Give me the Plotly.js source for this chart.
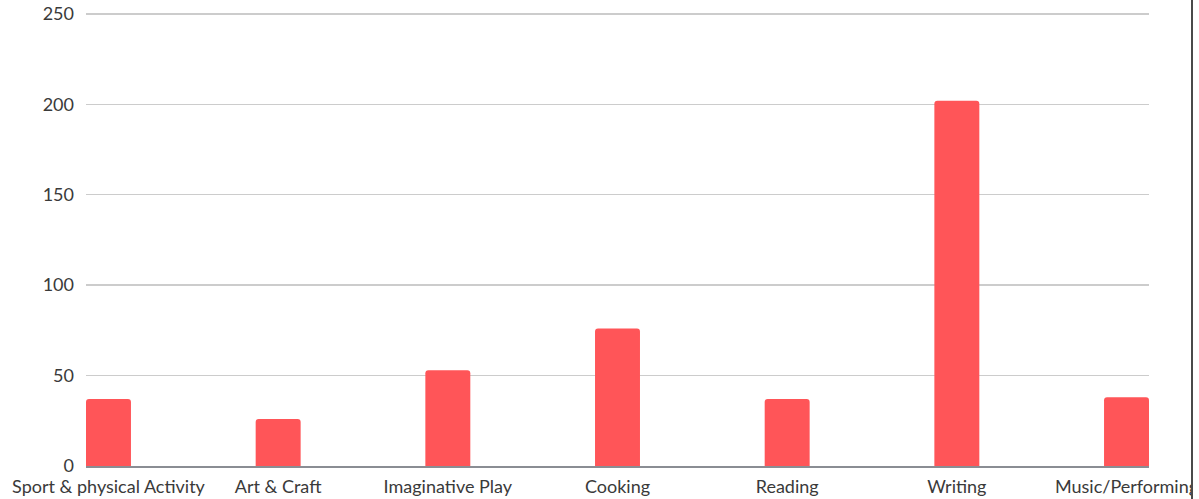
<!DOCTYPE html>
<html>
<head>
<meta charset="utf-8">
<script src="https://cdn.plot.ly/plotly-3.0.1.min.js"></script>
<style>
  html, body { margin: 0; padding: 0; background: #fff; }
  #wrap { position: relative; width: 1191px; height: 499px; overflow: hidden; }
  #edge { position: absolute; left: 1191px; top: 0; width: 2px; height: 499px; background: #4a4a4a; }
</style>
</head>
<body>
<div id="wrap"><div id="chart" style="width:1191px;height:499px;"></div></div>
<div id="edge"></div>
<script>
const categories = ["Sport & physical Activity", "Art & Craft", "Imaginative Play", "Cooking", "Reading", "Writing", "Music/Performing"];
const values = [37, 26, 53, 76, 37, 202, 38];
const yTicks = [0, 50, 100, 150, 200, 250];

const trace = {
  type: 'bar',
  x: categories,
  y: values,
  marker: { color: '#FF5558', line: { width: 0 } },
  hoverinfo: 'none'
};

const layout = {
  width: 1191,
  height: 499,
  margin: { l: 86, r: 42, t: 12, b: 33, pad: 0 },
  paper_bgcolor: '#ffffff',
  plot_bgcolor: '#ffffff',
  font: { family: 'Lato, sans-serif', size: 18, color: '#3a3a3a' },
  bargap: 0.735,
  barcornerradius: 3,
  showlegend: false,
  xaxis: {
    type: 'category',
    range: [-0.1325, 6.1325],
    showgrid: false,
    zeroline: false,
    showline: true,
    linecolor: '#8a8d93',
    linewidth: 2,
    ticks: '',
    ticklabelstandoff: 3,
    tickfont: { family: 'Lato, sans-serif', size: 18, color: '#3a3a3a' },
    automargin: false
  },
  yaxis: {
    range: [0, 251],
    tickvals: yTicks,
    showgrid: true,
    gridcolor: '#cccccc',
    gridwidth: 1.5,
    zeroline: false,
    showline: false,
    ticks: '',
    ticklabelstandoff: 11,
    tickfont: { family: 'Lato, sans-serif', size: 18, color: '#3a3a3a' },
    automargin: false
  }
};

Plotly.newPlot('chart', [trace], layout, { displayModeBar: false, staticPlot: true });
</script>
</body>
</html>
